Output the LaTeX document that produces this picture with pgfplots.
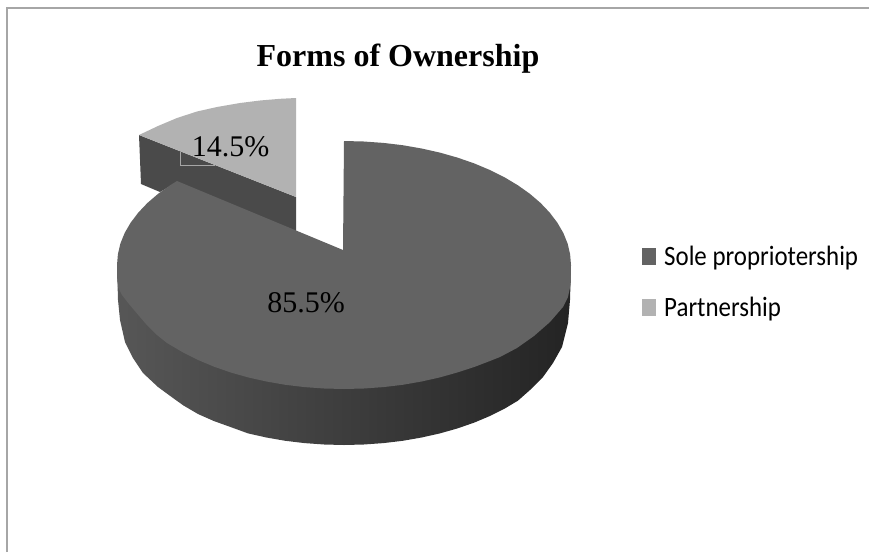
\documentclass[border=0pt]{standalone}
\usepackage{fontspec}
\setmainfont{Liberation Serif}
\newfontfamily\legendfont[FakeStretch=0.89]{Carlito}
\usepackage{pgfplots}
\pgfplotsset{compat=1.18}
\definecolor{soleTop}{HTML}{636363}
\definecolor{partnerTop}{HTML}{B2B2B2}
\definecolor{partnerWall}{HTML}{4A4A4A}
\definecolor{frameGrey}{HTML}{A6A6A6}
\begin{document}
\begin{tikzpicture}
\useasboundingbox (0,0) rectangle (869pt,552pt);
\begin{axis}[
  at={(0,0)}, anchor=south west,
  scale only axis, width=869pt, height=552pt,
  xmin=0, xmax=869, ymin=0, ymax=552, y dir=reverse,
  hide axis, clip=true, reverse legend,
  legend style={at={(axis cs:642,243.5)}, anchor=north west, draw=none, fill=none,
    font=\legendfont\fontsize{28}{30}\selectfont, row sep=26pt, inner sep=0pt},
  legend cell align=left,
  legend image code/.code={\fill[#1] (0pt,-9pt) rectangle (14pt,8pt);\path (20pt,0pt);},
]
% exploded partnership slice: outer wall, then top face
\addplot[draw=none, fill=partnerWall, forget plot] coordinates {
  (139,135) (296,197) (296,232) (177,182) (160,192) (141,184) (139,135)};
\addplot[draw=none, fill=partnerTop] coordinates {
  (296,197) (296,98) (280,98.8) (260,100.5) (240,103) (217,107) (197,111.5)
  (177,118) (158,126) (139,135) (296,197)};
\addlegendentry{Partnership}
% leader line of the 14.5% label
\addplot[frameGrey, line width=1pt, forget plot] coordinates {(180,152) (180,165) (215,165)};
% rim of the main slice
\addplot[draw=none, left color=black!66, middle color=black!80, right color=black!86, forget plot] coordinates {
  (571,265) (570,300) (568,323) (562,347) (553,363) (543,377)
  (530,390) (517.9,400.7) (504.5,408.7) (489.9,416) (474.2,422.6) (457.5,428.4)
  (439.9,433.4) (421.6,437.5) (402.7,440.8) (383.4,443.1) (363.8,444.5) (344,445)
  (324.2,444.5) (304.6,443.1) (285.3,440.8) (266.4,437.5) (248.1,433.4) (230.5,427)
  (213.8,421) (198,414) (183.5,405.5) (173,398) (158,387) (143,373)
  (133,358) (125,342) (120,320) (118,300) (117,265) (571,265)};
% top face of the main slice
\addplot[draw=none, fill=soleTop] coordinates {
  (343,250) (344,141) (363.8,141.5) (383.4,142.9) (402.7,145.2) (421.6,148.5) (439.9,152.6)
  (457.5,157.6) (474.2,163.4) (489.9,170) (504.5,177.3) (517.9,185.3) (530,193.9) (540.6,203)
  (549.7,212.6) (557.3,222.6) (563.3,232.9) (567.6,243.5) (570.1,254.2) (571,265) (570.5,285)
  (568,297) (563,307) (550,322) (534,336) (517,348)
  (500,357) (489.9,361) (474.2,367) (457.5,372.4) (439.9,377.4) (421.6,381.5) (402.7,384.8)
  (383.4,387.1) (363.8,388.5) (344,389) (324.2,388.5) (304.6,387.1) (285.3,384.8) (266.4,381.5)
  (248.1,377.4) (230.5,372.4) (213.8,366.6) (198.1,360) (183.5,352.7) (167,343) (157,335)
  (146,324) (137,313.5) (129,304) (122,295) (118,287) (117,276) (117,265)
  (117.9,254.2) (120.4,243.5) (124.7,232.9) (130.7,222.6) (138.3,212.6) (147.4,203) (158,193.9)
  (170.1,185.3) (177,181) (343,250)};
\addlegendentry{Sole propriotership}
% chart frame
\addplot[frameGrey, line width=2pt, forget plot] coordinates {(7,552) (7,8) (869,8)};
\node[anchor=base, font=\bfseries\fontsize{32}{34}\selectfont] at (axis cs:398,66) {Forms of Ownership};
\node[anchor=base, font=\fontsize{30}{32}\selectfont] at (axis cs:230.5,156.5) {14.5\%};
\node[anchor=base, font=\fontsize{30}{32}\selectfont] at (axis cs:306,312) {85.5\%};
\end{axis}
\end{tikzpicture}
\end{document}
